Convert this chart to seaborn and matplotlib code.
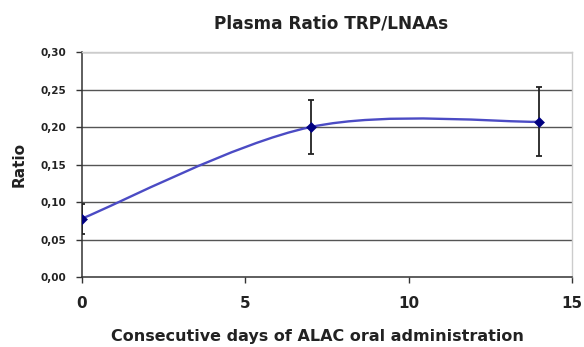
import numpy as np
import pandas as pd
import matplotlib
matplotlib.use("Agg")
import matplotlib.pyplot as plt
from matplotlib.path import Path
from matplotlib.patches import PathPatch
from matplotlib.ticker import FuncFormatter
import seaborn as sns

# ---- data ----
days = [0, 7, 14]
ratio = [0.078, 0.200, 0.207]
err = [0.020, 0.036, 0.046]
x_ticks = [0, 5, 10, 15]
y_ticks = [0.00, 0.05, 0.10, 0.15, 0.20, 0.25, 0.30]
title = "Plasma Ratio TRP/LNAAs"
xlabel = "Consecutive days of ALAC oral administration"
ylabel = "Ratio"

sns.set_theme(style="white")
plt.rcParams["font.family"] = ["DejaVu Sans"]

df = pd.DataFrame({"day": days, "ratio": ratio, "err": err})

fig = plt.figure(figsize=(5.84, 3.47), dpi=100)
ax = fig.add_axes([0.1404, 0.2017, 0.8391, 0.6483])

# smoothed line (Excel-style Catmull-Rom Bezier through the data points)
pts = np.column_stack([df["day"].to_numpy(float), df["ratio"].to_numpy(float)])
n = len(pts)
verts = [tuple(pts[0])]
codes = [Path.MOVETO]
for i in range(n - 1):
    p0 = pts[i - 1] if i > 0 else pts[i]
    p1 = pts[i]
    p2 = pts[i + 1]
    p3 = pts[i + 2] if i + 2 < n else pts[i + 1]
    c1 = p1 + (p2 - p0) / 6.0
    c2 = p2 - (p3 - p1) / 6.0
    verts += [tuple(c1), tuple(c2), tuple(p2)]
    codes += [Path.CURVE4] * 3
ax.add_patch(PathPatch(Path(verts, codes), facecolor="none",
                       edgecolor="#4b4bc4", lw=1.7, zorder=3))

ax.errorbar(df["day"], df["ratio"], yerr=df["err"], fmt="none",
            ecolor="#222222", elinewidth=1.3, capsize=2.5, capthick=1.3, zorder=4)
sns.scatterplot(data=df, x="day", y="ratio", marker="D", s=26,
                color="#000080", edgecolor="#000080", ax=ax, zorder=5, legend=False)

ax.set_xlim(0, 15)
ax.set_ylim(0, 0.30)
ax.set_xticks(x_ticks)
ax.set_yticks(y_ticks)
ax.yaxis.set_major_formatter(FuncFormatter(lambda v, p: f"{v:.2f}".replace(".", ",")))

for y in y_ticks[1:]:
    ax.axhline(y, color="#555555", lw=1.0, zorder=1)

for s in ["left", "bottom"]:
    ax.spines[s].set_color("#333333")
    ax.spines[s].set_linewidth(1.1)
for s in ["top", "right"]:
    ax.spines[s].set_color("#cccccc")
    ax.spines[s].set_linewidth(1.0)

ax.tick_params(axis="both", which="major", direction="out", length=4, width=1,
               color="#333333", bottom=True, left=True)
ax.tick_params(axis="x", labelsize=11, pad=10)
ax.tick_params(axis="y", labelsize=7.5, pad=7)
for lab in ax.get_xticklabels() + ax.get_yticklabels():
    lab.set_fontweight("bold")
    lab.set_color("#222222")

ax.set_ylabel(ylabel, fontsize=11, fontweight="bold", color="#222222", labelpad=10)
ax.set_xlabel(xlabel, fontsize=11.5, fontweight="bold", color="#222222", va="center")
ax.xaxis.set_label_coords((317 - 82) / 490, (277 - 337) / 225)
fig.text(331 / 584, 1 - 24 / 347, title, ha="center", va="center", fontsize=12.2,
         fontweight="bold", color="#222222")

fig.savefig("out.png", dpi=100, facecolor="white")
